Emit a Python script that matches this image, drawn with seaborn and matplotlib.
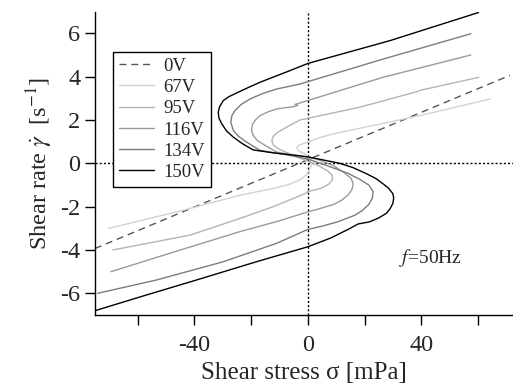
import numpy as np
import pandas as pd
import matplotlib
matplotlib.use("Agg")
import matplotlib.pyplot as plt
import seaborn as sns

# ---- data (shear stress sigma [mPa], shear rate gamma [1/s]) ----
labels = ["0V", "67V", "95V", "116V", "134V", "150V"]

sigma_0V = [-75.1, 71.3]
gamma_0V = [-3.93, 4.06]

sigma_67V = [-70.3, -45.0, -23.9, -12.2, -6.0, -2.0, 0.0, 1.2, 1.0, -0.5, -3.0, -4.0, -3.0, 0.0, 4.0, 8.9,
             14.8, 39.4, 64.4]
gamma_67V = [-3.0, -2.2, -1.47, -1.16, -0.95, -0.7, -0.45, -0.1, 0.2, 0.4, 0.55, 0.7, 0.85, 0.98, 1.18, 1.36,
             1.52, 2.2, 2.97]

sigma_95V = [-68.8, -41.5, -23.9, -12.2, -1.0, 0.0, 4.2, 5.5, 7.5, 8.7, 8.6, 7.0, 4.0, 0.0, -4.0, -7.5, -10.5,
             -12.2, -12.7, -12.2, -11.0, -7.5, -2.8, 18.3, 38.3, 40.0, 60.3]
gamma_95V = [-4.0, -3.31, -2.54, -2.0, -1.4, -1.3, -1.17, -1.1, -0.95, -0.75, -0.55, -0.35, -0.12, 0.1, 0.3, 0.5,
             0.68, 0.85, 1.05, 1.25, 1.4, 1.67, 2.0, 2.59, 3.3, 3.38, 3.97]

sigma_116V = [-69.5, -45.0, -23.9, -10.0, 0.0, 4.0, 9.0, 12.0, 14.3, 15.6, 16.0, 15.3, 13.0, 9.0, 3.0, -3.0,
              -8.0, -11.0, -15.1, -17.8, -19.3, -19.9, -19.5, -18.4, -16.9, -14.0, -11.0, -5.0, -3.5, -4.5,
              0.0, 26.5, 57.5]
gamma_116V = [-5.0, -4.0, -3.15, -2.65, -2.24, -2.1, -1.9, -1.7, -1.45, -1.2, -0.95, -0.7, -0.45, -0.1, 0.2, 0.35,
              0.45, 0.52, 0.83, 1.05, 1.29, 1.55, 1.8, 2.02, 2.2, 2.38, 2.51, 2.62, 2.68, 2.72,
              2.9, 3.97, 5.0]

sigma_134V = [-74.2, -53.3, -29.8, -11.0, 0.0, 5.0, 10.5, 16.5, 19.0, 21.5, 22.8, 23.0, 21.5, 18.5, 14.0, 7.0,
              0.0, -5.0, -10.0, -16.9, -21.6, -24.5, -26.3, -27.2, -26.8, -25.7, -23.5, -20.4, -16.0, -11.0,
              -2.8, 26.5, 57.5]
gamma_134V = [-6.0, -5.38, -4.54, -3.69, -3.05, -2.9, -2.7, -2.4, -2.2, -1.9, -1.6, -1.3, -1.0, -0.75, -0.45, -0.12,
              0.2, 0.33, 0.45, 0.6, 0.98, 1.25, 1.52, 1.9, 2.2, 2.44, 2.72, 2.97, 3.22, 3.43,
              3.66, 4.81, 5.98]

sigma_150V = [-75.1, -56.8, -39.2, -18.1, 0.0, 8.0, 14.2, 17.7, 21.8, 25.0, 27.7, 29.0, 30.0, 30.3, 30.0, 28.5,
              26.5, 24.0, 20.7, 16.0, 11.3, 0.0, -5.0, -12.0, -19.3, -23.0, -26.3, -28.7, -30.4, -31.4, -31.6,
              -31.2, -29.8, -27.8, -25.1, -21.0, -16.9, -6.3, 0.0, 28.9, 60.2]
gamma_150V = [-6.8, -6.07, -5.38, -4.54, -3.85, -3.45, -3.05, -2.8, -2.7, -2.52, -2.31, -2.1, -1.85, -1.6, -1.4, -1.15,
              -0.94, -0.7, -0.48, -0.2, 0.0, 0.3, 0.38, 0.48, 0.62, 0.9, 1.21, 1.5, 1.83, 2.1, 2.36,
              2.6, 2.9, 3.08, 3.25, 3.5, 3.74, 4.28, 4.61, 5.66, 6.96]

xtick_values = [-60, -40, -20, 0, 20, 40, 60]
xtick_labels = ["", "-40", "", "0", "", "40", ""]
ytick_values = [-6, -4, -2, 0, 2, 4, 6]
ytick_labels = ["-6", "-4", "-2", "0", "2", "4", "6"]

series = {
    "0V": (sigma_0V, gamma_0V),
    "67V": (sigma_67V, gamma_67V),
    "95V": (sigma_95V, gamma_95V),
    "116V": (sigma_116V, gamma_116V),
    "134V": (sigma_134V, gamma_134V),
    "150V": (sigma_150V, gamma_150V),
}
colors = {"0V": "#555555", "67V": "#d2d2d2", "95V": "#b4b4b4", "116V": "#9a9a9a",
          "134V": "#7c7c7c", "150V": "#000000"}

# ---- style ----
sns.set_style("ticks")
plt.rcParams["font.family"] = ["Liberation Serif", "DejaVu Serif"]
plt.rcParams["mathtext.fontset"] = "stix"
plt.rcParams["axes.unicode_minus"] = False

fig = plt.figure(figsize=(5.13, 3.89), dpi=100)
ax = fig.add_axes([0.1852, 0.1902, 0.8148, 0.7798])

ax.axhline(0, color="black", lw=1.0, ls=(0, (1.5, 1.5)), zorder=1)
ax.axvline(0, color="black", lw=1.0, ls=(0, (1.5, 1.5)), zorder=1)

for lab in labels:
    s, g = series[lab]
    df = pd.DataFrame({"sigma": s, "gamma": g})
    sns.lineplot(data=df, x="sigma", y="gamma", sort=False, estimator=None, ax=ax,
                 color=colors[lab], lw=1.0, label=lab,
                 linestyle=(0, (5, 3.5)) if lab == "0V" else "-")

ax.set_xlim(-75.1, 72.4)
ax.set_ylim(-7, 7)
ax.set_xticks(xtick_values)
ax.set_xticklabels(xtick_labels)
ax.set_yticks(ytick_values)
ax.set_yticklabels(ytick_labels)
ax.tick_params(axis="both", direction="out", length=7.5, width=1, labelsize=17.5, color="black")
ax.tick_params(axis="x", pad=7)
ax.tick_params(axis="y", pad=3)
for side in ["top", "right"]:
    ax.spines[side].set_visible(False)
for side in ["left", "bottom"]:
    ax.spines[side].set_linewidth(1.0)
    ax.spines[side].set_color("black")

ax.set_xlabel("Shear stress σ [mPa]", fontsize=18, labelpad=4)
ax.set_ylabel(r"Shear rate $\dot{\gamma}$  [s$^{-1}$]", fontsize=17.5, labelpad=4)

ax.text(32.0, -4.35, r"$f$=50Hz", fontsize=14, ha="left", va="center")

leg = ax.legend(loc="upper left", bbox_to_anchor=(0.043, 0.867), borderaxespad=0,
                fontsize=13.5, frameon=True, fancybox=False, framealpha=1, edgecolor="black",
                handlelength=1.9, handletextpad=0.5, labelspacing=0.22, borderpad=0.3)
leg.get_frame().set_linewidth(1.0)

fig.savefig("out.png", dpi=100)
